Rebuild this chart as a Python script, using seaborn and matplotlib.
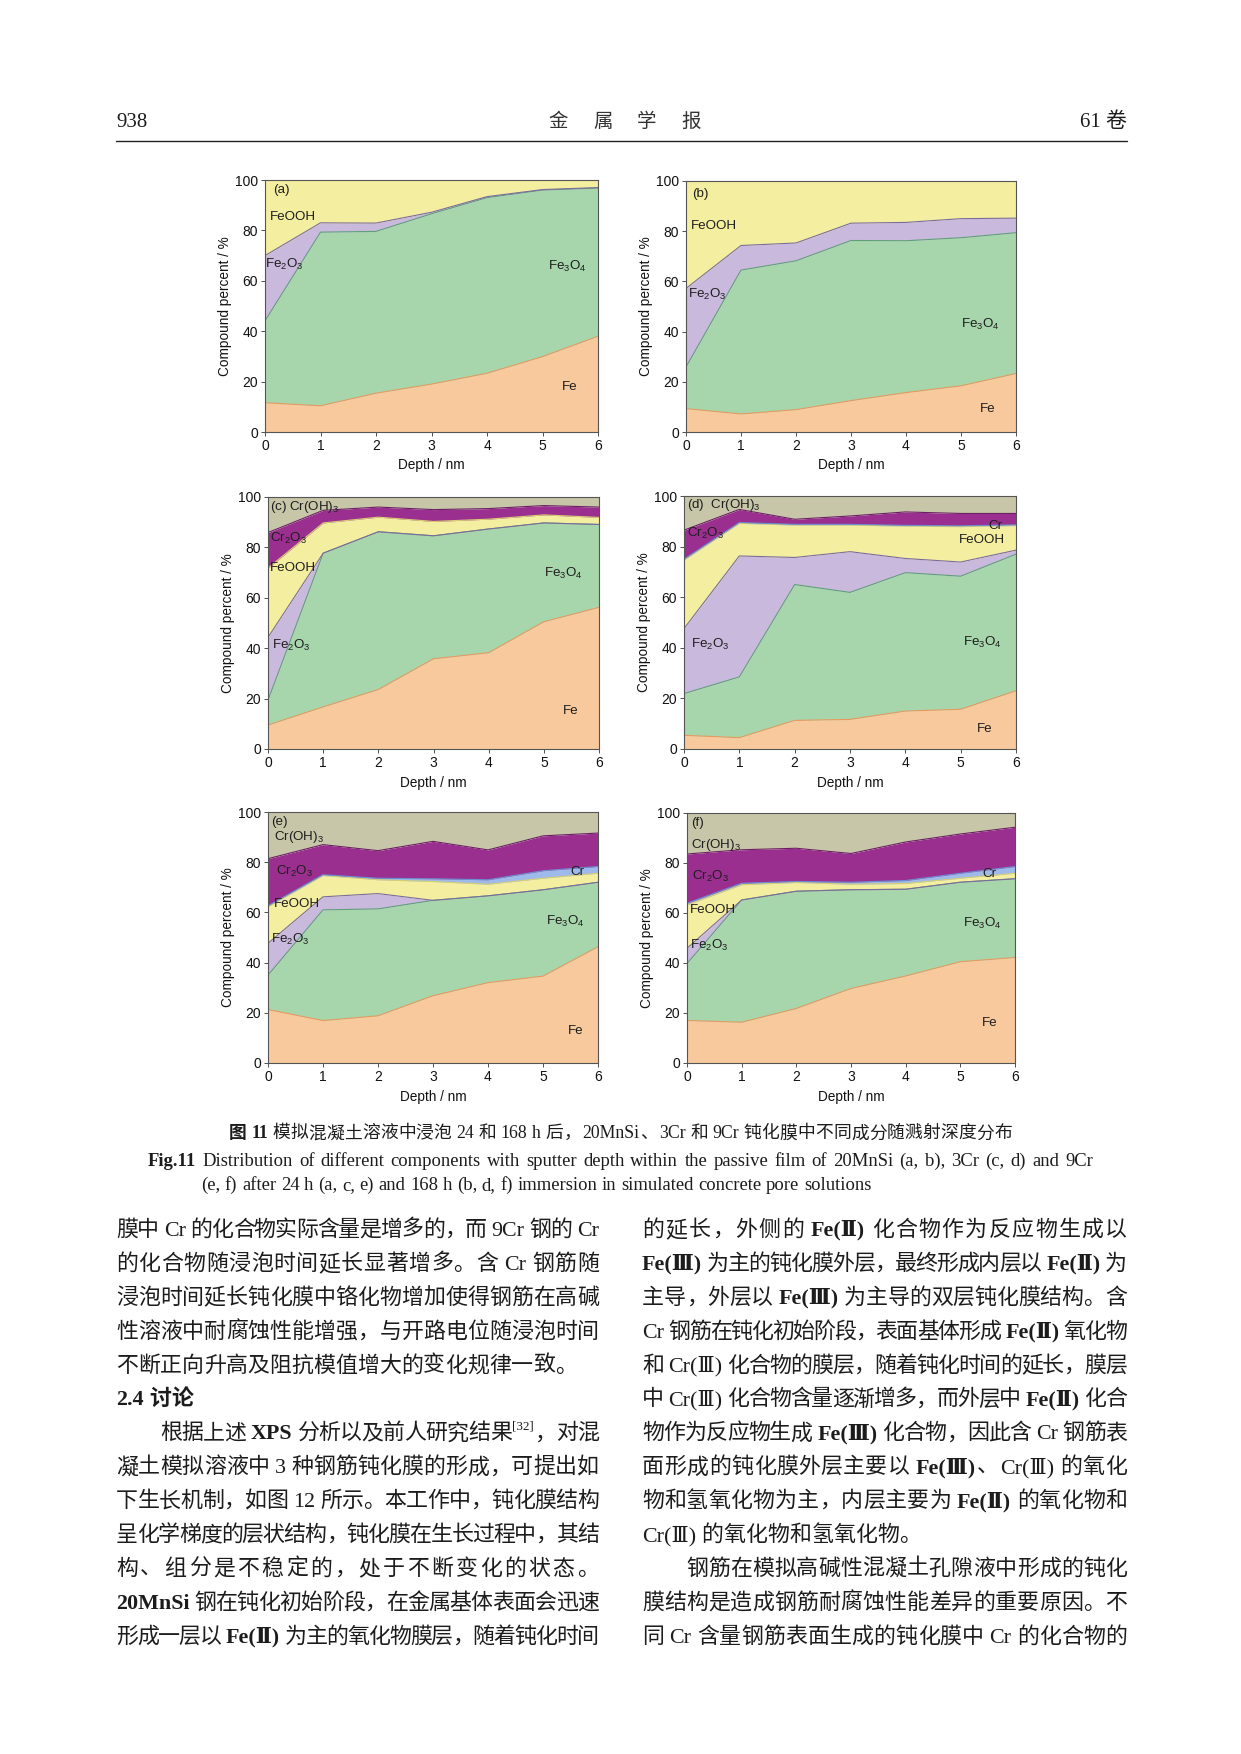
import numpy as np
import seaborn as sns
import matplotlib.pyplot as plt

# depth axis shared by all panels
depth = [0, 1, 2, 3, 4, 5, 6]

# (a) 20MnSi, 24 h  (percent of each compound, bottom to top)
a_fe = [11.6, 10.4, 15.4, 19.0, 23.3, 29.9, 38.0]
a_fe3o4 = [32.5, 68.9, 64.2, 67.6, 69.7, 66.1, 58.8]
a_fe2o3 = [25.9, 3.7, 3.3, 0.6, 0.4, 0.2, 0.2]
a_feooh = [30.0, 17.0, 17.1, 12.8, 6.6, 3.8, 3.0]

# (b) 20MnSi, 168 h
b_fe = [9.3, 7.2, 8.9, 12.5, 15.7, 18.4, 23.3]
b_fe3o4 = [16.6, 57.3, 59.3, 63.8, 60.5, 59.0, 56.1]
b_fe2o3 = [31.3, 9.8, 7.1, 6.9, 7.3, 7.6, 5.8]
b_feooh = [42.8, 25.7, 24.7, 16.8, 16.5, 15.0, 14.8]

# (c) 3Cr, 24 h
c_fe = [9.5, 16.7, 23.6, 35.8, 38.2, 50.5, 56.2]
c_fe3o4 = [9.9, 61.0, 62.6, 48.8, 49.1, 39.2, 32.9]
c_fe2o3 = [24.9, 0.0, 0.0, 0.0, 0.0, 0.0, 0.0]
c_feooh = [27.5, 12.0, 5.8, 5.7, 3.9, 3.2, 2.8]
c_cr2o3 = [14.1, 5.0, 4.0, 4.7, 4.2, 3.7, 4.1]
c_croh3 = [14.1, 5.3, 4.0, 5.0, 4.6, 3.4, 4.0]

# (d) 3Cr, 168 h
d_fe = [5.4, 4.5, 11.3, 11.7, 15.0, 15.7, 23.0]
d_fe3o4 = [16.5, 24.0, 53.7, 50.2, 54.7, 52.6, 54.0]
d_fe2o3 = [25.7, 47.8, 10.7, 16.1, 5.6, 5.6, 1.6]
d_feooh = [27.1, 12.9, 12.8, 10.5, 12.8, 14.0, 9.7]
d_cr = [0.3, 0.3, 0.3, 0.3, 0.3, 0.3, 0.3]
d_cr2o3 = [11.5, 5.2, 2.0, 3.3, 5.3, 4.9, 4.5]
d_croh3 = [13.5, 5.3, 9.2, 7.9, 6.3, 6.9, 6.9]

# (e) 9Cr, 24 h
e_fe = [21.3, 16.9, 18.8, 26.8, 32.0, 34.6, 46.3]
e_fe3o4 = [13.7, 44.1, 42.6, 38.0, 34.6, 34.4, 25.7]
e_fe2o3 = [12.7, 5.2, 6.1, 0.0, 0.0, 0.0, 0.0]
e_feooh = [14.6, 8.5, 5.5, 7.5, 4.6, 4.6, 3.6]
e_cr = [0.3, 0.3, 0.6, 1.1, 1.8, 3.0, 2.7]
e_cr2o3 = [18.8, 12.0, 11.0, 14.9, 11.9, 13.9, 13.3]
e_croh3 = [18.6, 13.0, 15.4, 11.7, 15.1, 9.5, 8.4]

# (f) 9Cr, 168 h
f_fe = [17.0, 16.3, 21.8, 29.8, 34.8, 40.5, 42.2]
f_fe3o4 = [22.8, 48.9, 46.9, 39.5, 34.7, 31.8, 31.5]
f_fe2o3 = [6.1, 0.0, 0.0, 0.0, 0.0, 0.0, 0.0]
f_feooh = [17.3, 6.1, 3.5, 2.2, 2.3, 1.6, 2.2]
f_cr = [0.7, 0.6, 0.4, 0.8, 1.2, 2.0, 2.7]
f_cr2o3 = [19.7, 13.4, 13.3, 11.5, 15.4, 15.7, 15.7]
f_croh3 = [16.4, 14.7, 14.1, 16.2, 11.6, 8.4, 5.7]

order = ["Fe", "Fe3O4", "Fe2O3", "FeOOH", "Cr", "Cr2O3", "Cr(OH)3"]
fill = {"Fe": "#F7C99C", "Fe3O4": "#A7D5AC", "Fe2O3": "#C9B9DD",
        "FeOOH": "#F3EEA0", "Cr": "#9DBAEA", "Cr2O3": "#9B2F90",
        "Cr(OH)3": "#C7C6A8"}
edge = {"Fe": "#E8995E", "Fe3O4": "#5FA078", "Fe2O3": "#7C6C9E",
        "FeOOH": "#D8CF70", "Cr": "#6A8ED2", "Cr2O3": "#6C1F64",
        "Cr(OH)3": "#8E8C70"}

panels = [
    ({"Fe": a_fe, "Fe3O4": a_fe3o4, "Fe2O3": a_fe2o3, "FeOOH": a_feooh},
     (265, 180, 598, 432),
     [("(a)", 0.15, 96.0), ("FeOOH", 0.08, 85.5), ("Fe$_2$O$_3$", 0.0, 66.5),
      ("Fe$_3$O$_4$", 5.1, 65.5), ("Fe", 5.35, 18)]),
    ({"Fe": b_fe, "Fe3O4": b_fe3o4, "Fe2O3": b_fe2o3, "FeOOH": b_feooh},
     (686, 181, 1016, 432),
     [("(b)", 0.12, 95.0), ("FeOOH", 0.09, 82), ("Fe$_2$O$_3$", 0.04, 55),
      ("Fe$_3$O$_4$", 5.0, 43), ("Fe", 5.35, 9)]),
    ({"Fe": c_fe, "Fe3O4": c_fe3o4, "Fe2O3": c_fe2o3, "FeOOH": c_feooh,
      "Cr2O3": c_cr2o3, "Cr(OH)3": c_croh3},
     (268, 497, 599, 749),
     [("(c) Cr(OH)$_3$", 0.03, 96.0), ("Cr$_2$O$_3$", 0.03, 83.7),
      ("FeOOH", 0.03, 71.8), ("Fe$_2$O$_3$", 0.07, 41.2),
      ("Fe$_3$O$_4$", 5.0, 69.8), ("Fe", 5.35, 15)]),
    ({"Fe": d_fe, "Fe3O4": d_fe3o4, "Fe2O3": d_fe2o3, "FeOOH": d_feooh,
      "Cr": d_cr, "Cr2O3": d_cr2o3, "Cr(OH)3": d_croh3},
     (684, 496, 1016, 749),
     [("(d)  Cr(OH)$_3$", 0.05, 96.5), ("Cr$_2$O$_3$", 0.05, 85.2),
      ("Cr", 5.5, 88.3), ("FeOOH", 4.96, 82.6), ("Fe$_2$O$_3$", 0.12, 41.4),
      ("Fe$_3$O$_4$", 5.05, 42.3), ("Fe", 5.3, 8)]),
    ({"Fe": e_fe, "Fe3O4": e_fe3o4, "Fe2O3": e_fe2o3, "FeOOH": e_feooh,
      "Cr": e_cr, "Cr2O3": e_cr2o3, "Cr(OH)3": e_croh3},
     (268, 812, 598, 1063),
     [("(e)", 0.05, 96), ("Cr(OH)$_3$", 0.1, 89.9), ("Cr$_2$O$_3$", 0.15, 76.3),
      ("Cr", 5.5, 76), ("FeOOH", 0.1, 63.2), ("Fe$_2$O$_3$", 0.05, 49.4),
      ("Fe$_3$O$_4$", 5.05, 56.3), ("Fe", 5.45, 12.6)]),
    ({"Fe": f_fe, "Fe3O4": f_fe3o4, "Fe2O3": f_fe2o3, "FeOOH": f_feooh,
      "Cr": f_cr, "Cr2O3": f_cr2o3, "Cr(OH)3": f_croh3},
     (687, 813, 1015, 1063),
     [("(f)", 0.07, 96), ("Cr(OH)$_3$", 0.07, 87.3), ("Cr$_2$O$_3$", 0.1, 74.6),
      ("Cr", 5.4, 75.5), ("FeOOH", 0.05, 61.2), ("Fe$_2$O$_3$", 0.05, 47.2),
      ("Fe$_3$O$_4$", 5.05, 55.9), ("Fe", 5.4, 16)]),
]

header_left = "938"
header_mid = ["金", "属", "学", "报"]
header_right = "61 卷"

caption_cn = [("图11", "b"), ("模拟混凝土溶液中浸泡24和168 h后，20MnSi、3Cr和9Cr钝化膜中不同成分随溅射深度分布", "n")]
caption_en1 = [("Fig.11", "b"), ("Distribution of different components with sputter depth within the passive film of 20MnSi (a, b), 3Cr (c, d) and 9Cr", "n")]
caption_en2 = [("(e, f) after 24 h (a, c, e) and 168 h (b, d, f) immersion in simulated concrete pore solutions", "n")]

# (segments, indent in em, justified)
left_col = [
    ([("膜中Cr的化合物实际含量是增多的，而9Cr钢的Cr", "n")], 0, True),
    ([("的化合物随浸泡时间延长显著增多。含Cr钢筋随", "n")], 0, True),
    ([("浸泡时间延长钝化膜中铬化物增加使得钢筋在高碱", "n")], 0, True),
    ([("性溶液中耐腐蚀性能增强，与开路电位随浸泡时间", "n")], 0, True),
    ([("不断正向升高及阻抗模值增大的变化规律一致。", "n")], 0, False),
    ([("2.4", "b"), (" ", "n"), ("讨论", "b")], 0, False),
    ([("根据上述", "n"), ("XPS", "b"), ("分析以及前人研究结果", "n"), ("[32]", "sup"), ("，对混", "n")], 2, True),
    ([("凝土模拟溶液中3种钢筋钝化膜的形成，可提出如", "n")], 0, True),
    ([("下生长机制，如图12所示。本工作中，钝化膜结构", "n")], 0, True),
    ([("呈化学梯度的层状结构，钝化膜在生长过程中，其结", "n")], 0, True),
    ([("构、组分是不稳定的，处于不断变化的状态。", "n")], 0, True),
    ([("20MnSi", "b"), ("钢在钝化初始阶段，在金属基体表面会迅速", "n")], 0, True),
    ([("形成一层以", "n"), ("Fe(Ⅱ)", "b"), ("为主的氧化物膜层，随着钝化时间", "n")], 0, True),
]
right_col = [
    ([("的延长，外侧的", "n"), ("Fe(Ⅱ)", "b"), ("化合物作为反应物生成以", "n")], 0, True),
    ([("Fe(Ⅲ)", "b"), ("为主的钝化膜外层，最终形成内层以", "n"), ("Fe(Ⅱ)", "b"), ("为", "n")], 0, True),
    ([("主导，外层以", "n"), ("Fe(Ⅲ)", "b"), ("为主导的双层钝化膜结构。含", "n")], 0, True),
    ([("Cr钢筋在钝化初始阶段，表面基体形成", "n"), ("Fe(Ⅱ)", "b"), ("氧化物", "n")], 0, True),
    ([("和Cr(Ⅲ)化合物的膜层，随着钝化时间的延长，膜层", "n")], 0, True),
    ([("中Cr(Ⅲ)化合物含量逐渐增多，而外层中", "n"), ("Fe(Ⅱ)", "b"), ("化合", "n")], 0, True),
    ([("物作为反应物生成", "n"), ("Fe(Ⅲ)", "b"), ("化合物，因此含Cr钢筋表", "n")], 0, True),
    ([("面形成的钝化膜外层主要以", "n"), ("Fe(Ⅲ)", "b"), ("、Cr(Ⅲ)的氧化", "n")], 0, True),
    ([("物和氢氧化物为主，内层主要为", "n"), ("Fe(Ⅱ)", "b"), ("的氧化物和", "n")], 0, True),
    ([("Cr(Ⅲ)的氧化物和氢氧化物。", "n")], 0, False),
    ([("钢筋在模拟高碱性混凝土孔隙液中形成的钝化", "n")], 2, True),
    ([("膜结构是造成钢筋耐腐蚀性能差异的重要原因。不", "n")], 0, True),
    ([("同Cr含量钢筋表面生成的钝化膜中Cr的化合物的", "n")], 0, True),
]

W, H = 1241, 1754
LATIN = ["Liberation Serif", "DejaVu Serif", "Noto Sans CJK SC"]
CJK = ["Noto Sans CJK SC"]
INK = "#1c1c1c"
PUNCT = "，。、；："

sns.set_theme(context="paper", style="ticks")
plt.rcParams["font.family"] = ["Liberation Sans", "Noto Sans CJK SC"]
plt.rcParams["mathtext.default"] = "regular"

fig = plt.figure(figsize=(W / 100, H / 100), dpi=100)
fig.patch.set_facecolor("white")
renderer = fig.canvas.get_renderer()


def fx(x):
    return x / W


def fy(y):
    return 1 - y / H


def draw_line(segs, x0, x1, yc, size, justify=True, indent=0, weight="normal"):
    """Lay out mixed Chinese / Latin text on one line, justified to [x0, x1] px."""
    em = size * 100 / 72
    items = []
    for text, style in segs:
        buf = ""
        for ch in text + "\0":
            if ch == "\0" or ch == " " or ord(ch) >= 0x2E80:
                if buf:
                    items.append((buf, style, False))
                    buf = ""
                if ch not in ("\0", " "):
                    items.append((ch, style, True))
            else:
                buf += ch
    base = yc + 0.36 * em
    objs, widths, gaps = [], [], []
    for i, (tok, style, cjk) in enumerate(items):
        sz = size * 0.6 if style == "sup" else size
        dy = -0.45 * em if style == "sup" else 0
        t = fig.text(0, fy(base + dy), tok, fontsize=sz, color=INK,
                     family=CJK if cjk else LATIN,
                     fontweight="bold" if style == "b" else weight,
                     ha="left", va="baseline")
        if cjk:
            w = em
        else:
            w = t.get_window_extent(renderer=renderer).width
        objs.append(t)
        widths.append(w)
        prev = items[i - 1] if i > 0 else None
        if prev is None:
            gaps.append(0)
        elif style == "sup":
            gaps.append(0.03 * em)
        elif cjk and prev[2]:
            gaps.append(0)
        elif tok in PUNCT or prev[0] in PUNCT:
            gaps.append(0.05 * em)
        else:
            gaps.append(0.25 * em)
    start = x0 + indent * em
    natural = sum(widths) + sum(gaps)
    extra = 0
    if justify and len(items) > 1:
        extra = (x1 - start - natural) / (len(items) - 1)
    x = start
    for i, t in enumerate(objs):
        if i > 0:
            x += gaps[i] + extra
        t.set_x(fx(x))
        x += widths[i]


# ---- page header ----
fig.text(fx(116), fy(127), header_left, fontsize=15, family=LATIN, color=INK,
         ha="left", va="baseline")
for ch, cx in zip(header_mid, [558, 603, 647, 691]):
    fig.text(fx(cx), fy(127), ch, fontsize=14, family=CJK, color="#333333",
             fontweight="light", ha="center", va="baseline")
fig.text(fx(1127), fy(127), header_right, fontsize=15, family=LATIN + CJK,
         color=INK, ha="right", va="baseline")
fig.add_artist(plt.Line2D([fx(116), fx(1127)], [fy(141), fy(141)],
                          color="#222222", lw=1.0))

# ---- six stacked-area panels ----
for comps, (l, t, r, b), labels in panels:
    ax = fig.add_axes([fx(l), fy(b), (r - l) / W, (b - t) / H])
    names = [n for n in order if n in comps]
    vals = [comps[n] for n in names]
    ax.stackplot(depth, *vals, colors=[fill[n] for n in names], lw=0)
    cum = np.cumsum(vals, axis=0)
    for n, c in zip(names[:-1], cum[:-1]):
        sns.lineplot(x=depth, y=c, color=edge[n], lw=0.8, ax=ax)
    for txt, x, y in labels:
        ax.text(x, y, txt, fontsize=9.6, color="#1e1e1e", ha="left", va="center")
    ax.set_xlim(0, 6)
    ax.set_ylim(0, 100)
    ax.set_xticks(depth)
    ax.set_yticks([0, 20, 40, 60, 80, 100])
    ax.tick_params(labelsize=10, length=3, width=0.6, pad=2, colors="#333333",
                   labelcolor="#111111")
    for s in ax.spines.values():
        s.set_color("#555555")
        s.set_linewidth(0.8)
    ax.set_xlabel("Depth / nm", fontsize=9.8, labelpad=4, color="#111111")
    ax.set_ylabel("Compound percent / %", fontsize=9.8, labelpad=2, color="#111111")

# ---- figure caption ----
draw_line(caption_cn, 229, 1012, 1132, 12.8, justify=True)
draw_line(caption_en1, 148, 1093, 1159, 13.4, justify=True)
draw_line(caption_en2, 201, 875, 1183, 13.4, justify=False)

# ---- body text, two columns ----
line_y = [1228 + 33.9 * i for i in range(13)]
for (segs, ind, just), y in zip(left_col, line_y):
    draw_line(segs, 116, 599, y, 15.8, justify=just, indent=ind)
for (segs, ind, just), y in zip(right_col, line_y):
    draw_line(segs, 642, 1127, y, 15.8, justify=just, indent=ind)

fig.savefig("out.png", dpi=100, facecolor="white")
